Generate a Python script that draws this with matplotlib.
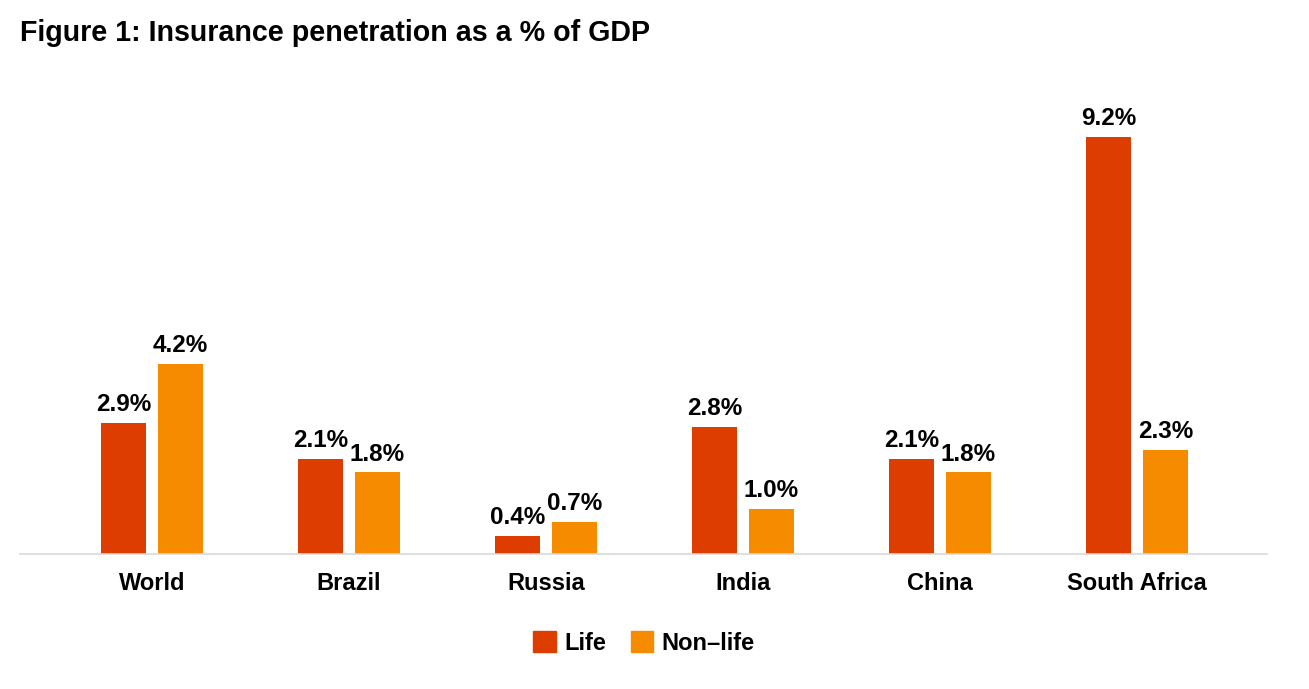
import numpy as np
import matplotlib
matplotlib.use('Agg')
import matplotlib.pyplot as plt
from matplotlib.patches import Patch

# Chart data
countries = ['World', 'Brazil', 'Russia', 'India', 'China', 'South Africa']
life = [2.9, 2.1, 0.4, 2.8, 2.1, 9.2]
non_life = [4.2, 1.8, 0.7, 1.0, 1.8, 2.3]

life_color = '#DE3D00'
non_life_color = '#F78B00'

plt.rcParams['font.family'] = ['Liberation Sans', 'DejaVu Sans']
plt.rcParams['font.weight'] = 'bold'

fig = plt.figure(figsize=(13.09, 6.89), dpi=100)
ax = fig.add_axes([20 / 1309, 135 / 689, 1247 / 1309, 453 / 689])

x = np.arange(len(countries))
width = 0.228
offset = 0.145

bars1 = ax.bar(x - offset, life, width, color=life_color, linewidth=0)
bars2 = ax.bar(x + offset, non_life, width, color=non_life_color, linewidth=0)

# Value labels above each bar
for bars, vals in [(bars1, life), (bars2, non_life)]:
    for b, v in zip(bars, vals):
        ax.annotate(f'{v:.1f}%', (b.get_x() + b.get_width() / 2, v),
                    xytext=(0, 5), textcoords='offset points',
                    ha='center', va='bottom', fontsize=17.5, fontweight='bold')

ax.set_xlim(-0.67, 5.66)
ax.set_ylim(0, 10)
ax.set_xticks(x)
ax.set_xticklabels(countries, fontsize=17, fontweight='bold')
ax.tick_params(axis='x', length=0, pad=13)
ax.set_yticks([])

for s in ['top', 'right', 'left']:
    ax.spines[s].set_visible(False)
ax.spines['bottom'].set_color('#d9d9d9')
ax.spines['bottom'].set_linewidth(1.2)

fig.text(20 / 1309, 1 - 33 / 689, 'Figure 1: Insurance penetration as a % of GDP',
         fontsize=20.6, fontweight='bold', ha='left', va='center')

handles = [Patch(color=life_color, label='Life'),
           Patch(color=non_life_color, label='Non\u2013life')]
fig.legend(handles=handles, loc='center', bbox_to_anchor=(644 / 1309, 1 - 643 / 689),
           ncol=2, frameon=False, handlelength=0.95, handleheight=0.95,
           handletextpad=0.35, columnspacing=1.05, prop={'weight': 'bold', 'size': 17})

plt.savefig('out.png', dpi=100)
